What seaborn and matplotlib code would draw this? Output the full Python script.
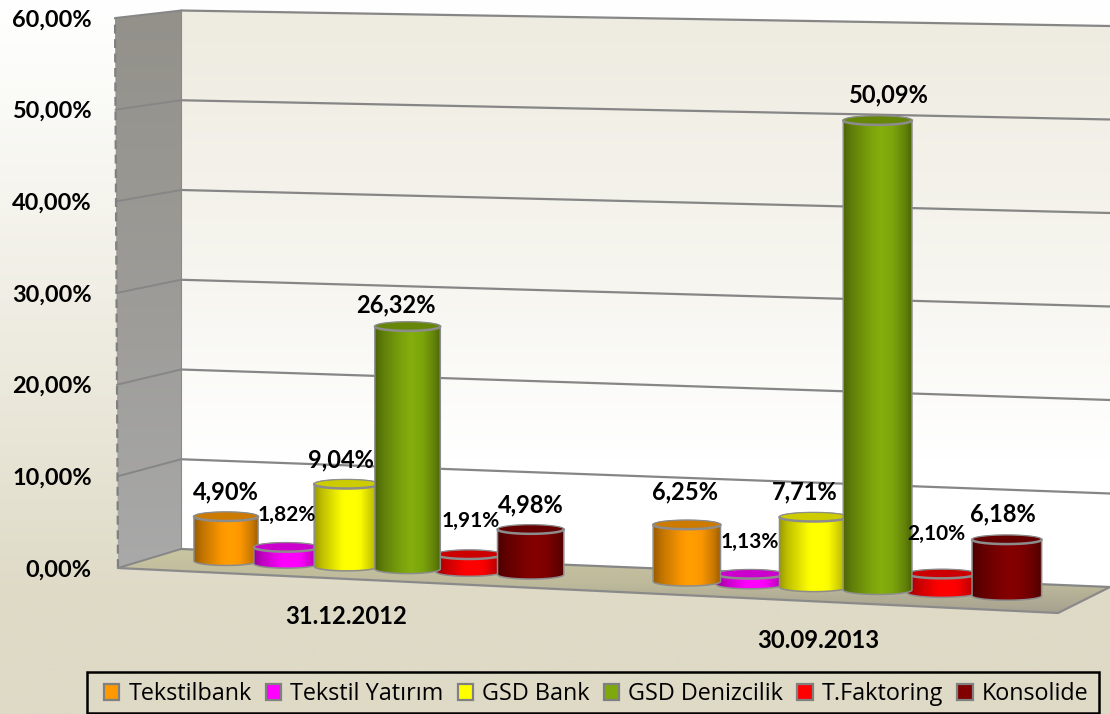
import numpy as np
import pandas as pd
import seaborn as sns
import matplotlib
matplotlib.use("Agg")
import matplotlib.pyplot as plt
from matplotlib.colors import to_rgb
from matplotlib.patches import Polygon, Rectangle
from matplotlib.transforms import Affine2D, Transform

# ---- data
periods = ["31.12.2012", "30.09.2013"]
series = ["Tekstilbank", "Tekstil Yatırım", "GSD Bank", "GSD Denizcilik", "T.Faktoring", "Konsolide"]
values_2012 = [4.90, 1.82, 9.04, 26.32, 1.91, 4.98]
values_2013 = [6.25, 1.13, 7.71, 50.09, 2.10, 6.18]
y_ticks = [0, 10, 20, 30, 40, 50, 60]

# ---- style
colors = ["#FF9900", "#FF00FF", "#FFFF00", "#7FA80C", "#FF0000", "#800000"]
label_sizes = [17, 15, 17, 17, 15, 17]
label_offsets = [
    [(0, 25), (1, 32), (-6, 24), (-12, 21), (2, 34), (0, 24)],
    [(-2, 33), (0, 32), (-9, 25), (11, 25), (-6, 40), (-4, 26)],
]
draw_order = [[0, 1, 2, 4, 5, 3], [1, 0, 2, 4, 5, 3]]
BOLD_FONT = ["Lato", "DejaVu Sans"]
FONT = ["Open Sans", "DejaVu Sans"]
W, H = 1110, 714

sns.set_theme(style="white")
plt.rcParams["font.family"] = FONT

fig = plt.figure(figsize=(W / 100, H / 100), dpi=100)
P = Affine2D().scale(1, -1).translate(0, H)  # picture pixels, y downwards


class Plane(Transform):
    input_dims = output_dims = 2
    has_inverse = False
    is_separable = False

    def __init__(self, fn):
        super().__init__()
        self.fn = fn

    def transform_non_affine(self, values):
        a = np.asarray(values, dtype=float)
        return np.column_stack(self.fn(a[:, 0], a[:, 1]))


def bar_plane(x, v):
    px = 377 + 457 * x + 11.5 * x ** 2
    base = 561 + 0.0445 * (px - 226)
    return px, base - (9.05 * v + 0.0065 * v ** 2)


def back_wall(u, v):
    yl, yr = 549 - v * 8.975, 587 - v * 9.35
    return 181 + 929 * u, yl + (yr - yl) * u


def left_wall(u, v):
    xf = 118 - 3 * v / 60
    yf, yb = 568 - v * 550 / 60, 549 - v * 8.975
    return xf + (181 - xf) * u, yf + (yb - yf) * u


T_bar, T_back, T_left = Plane(bar_plane), Plane(back_wall), Plane(left_wall)

# ---- background, walls, floor
bg = fig.add_axes([0, 0, 1, 1], zorder=0)
bg.set_axis_off()
bg.set_xlim(0, W)
bg.set_ylim(H, 0)
bg.autoscale(False)


def vgrad(stops, n=256):
    t = np.linspace(0, 1, n)
    pos = [s[0] for s in stops]
    cols = np.array([to_rgb(s[1]) for s in stops])
    return np.stack([np.interp(t, pos, cols[:, i]) for i in range(3)], axis=1)[:, None, :]


def grad_poly(a, pts, extent, z):
    im = a.imshow(vgrad(z), extent=extent, aspect="auto",
                  interpolation="bilinear", transform=P, zorder=1)
    im.set_clip_box(fig.bbox)
    im.set_clip_path(Polygon(pts, closed=True, transform=P))
    return im


grad_poly(bg, [(0, 0), (W, 0), (W, H), (0, H)], (0, W, H, 0),
          [(0, "#FFFFFF"), (0.12, "#FBFBF8"), (0.6, "#E9E6D8"), (0.84, "#DEDAC6"), (1, "#DEDAC6")])
grad_poly(bg, [(181, 10.5), (W, 26), (W, 587), (181, 549)], (181, W, 587, 10),
          [(0, "#EEEBE0"), (0.45, "#F6F5EF"), (0.78, "#FFFFFF"), (1, "#FFFFFF")])
grad_poly(bg, [(115, 18), (181, 10.5), (181, 549), (118, 568)], (115, 181, 568, 10),
          [(0, "#93918A"), (0.5, "#9C9B97"), (1, "#A9A9A9")])
grad_poly(bg, [(118, 568), (181, 549), (W, 587), (1058, 613)], (118, W, 613, 549),
          [(0, "#C9C6A2"), (0.55, "#BDB99B"), (1, "#A5A18F")])

for v in y_ticks:
    bg.plot([0, 1], [v, v], color="#868686", lw=1.6, transform=T_back + P, zorder=2, clip_on=False)
    bg.plot([0, 1], [v, v], color="#868686", lw=1.4, transform=T_left + P, zorder=2, clip_on=False)
bg.plot([0, 0], [0, 60], color="#808080", lw=1.6, ls=(0, (4, 2.5)), transform=T_left + P, zorder=3)
bg.plot([1, 1], [0, 60], color="#8A8A8A", lw=0.8, transform=T_left + P, zorder=3)
bg.plot([118, 1058, W], [568, 613, 587], color="#8A8A8A", lw=1.6, transform=P, zorder=3, clip_on=False)

# ---- bars, through seaborn
df = pd.DataFrame({
    "period": np.repeat(periods, len(series)),
    "series": series * len(periods),
    "value": values_2012 + values_2013,
})
ax = fig.add_axes([118 / W, (H - 568) / H, (W - 118) / W, 550 / H], zorder=1)
ax.patch.set_visible(False)
sns.barplot(data=df, x="period", y="value", hue="series", order=periods, hue_order=series,
            palette=dict(zip(series, colors)), saturation=1, width=0.8, gap=-0.07,
            errorbar=None, ax=ax)
handles, labels = ax.get_legend_handles_labels()
ax.set_ylim(0, 60)
ax.set_xlim((118 - 377) / 467, (W - 377) / 467)
ax.autoscale(False)
sns.despine(ax=ax, left=True, bottom=True)
ax.set_xlabel("")
ax.set_ylabel("")
ax.set_yticks(y_ticks, [f"{v:.2f}".replace(".", ",") + "%" for v in y_ticks],
              fontsize=16.9, fontweight="bold", color="black", family=BOLD_FONT)
ax.tick_params(axis="y", length=0, pad=19)
ax.set_xticks([(346 - 377) / 467, (818 - 377) / 467], periods, fontsize=17.2, fontweight="bold",
              color="black", family=BOLD_FONT)
ax.tick_params(axis="x", length=0)
for tick, pad in zip(ax.xaxis.get_major_ticks(), [27, 44]):
    tick.set_pad(pad)

T_P = T_bar + P
RY = 4.5
th = np.linspace(0, np.pi, 40)


def level_arc(x0, w, v, sign):
    # the rim is level: its height comes from the bar's centre on the sloping plane
    xs = x0 + w / 2 * (1 - np.cos(th))
    px, _ = bar_plane(xs, np.zeros_like(xs))
    _, cy = bar_plane(np.array([x0 + w / 2]), np.array([v]))
    if sign < 0:
        px = px[::-1]
    return px, cy[0] + sign * RY * np.sin(th)


for g in range(len(periods)):
    for z, s in enumerate(draw_order[g]):
        bar = ax.containers[s][g]
        x0, w, h = bar.get_x(), bar.get_width(), bar.get_height()
        # the flat seaborn bar stays inside the cylinder painted over it
        bar.set_transform(T_P)
        bar.set_clip_on(False)
        bar.set_linewidth(0)
        bar.set_zorder(1.5 + g + z * 0.1)
        bar.set_x(x0 + 0.07 * w)
        bar.set_width(0.86 * w)
        zb = 2 + g + z * 0.1
        bx, by = level_arc(x0, w, 0, +1)
        tx, ty = level_arc(x0, w, h, -1)
        body = np.column_stack([np.r_[bx, tx], np.r_[by, ty]])
        base = np.array(to_rgb(colors[s]))
        t = np.linspace(0, 1, 128)
        shade = np.interp(t, [0, 0.12, 0.42, 0.55, 0.72, 0.9, 1], [0.6, 0.75, 0.98, 1.04, 0.98, 0.78, 0.6])
        grad = np.clip(base[None, None, :] * shade[None, :, None], 0, 1)
        im = ax.imshow(grad, extent=(body[:, 0].min(), body[:, 0].max(), body[:, 1].max(), body[:, 1].min()),
                       aspect="auto", interpolation="bilinear", transform=P, zorder=zb)
        im.set_clip_box(fig.bbox)
        im.set_clip_path(Polygon(body, closed=True, transform=P))
        ax.add_patch(Polygon(body, closed=True, fc="none", ec="#8C8C8C", lw=1.1, transform=P,
                             zorder=zb + 0.01, clip_on=False))
        ux, uy = level_arc(x0, w, h, +1)
        cap = np.column_stack([np.r_[ux, tx], np.r_[uy, ty]])
        ax.add_patch(Polygon(cap, closed=True, fc=tuple(base * 0.8), ec="none", transform=P,
                             zorder=zb + 0.02, clip_on=False))
        ax.plot(ux, uy, color="#8C8C8C", lw=1.8, transform=P, zorder=zb + 0.03, clip_on=False)
        ax.plot(tx, ty, color="#8C8C8C", lw=0.7, transform=P, zorder=zb + 0.03, clip_on=False)
        ax.annotate(f"{h:.2f}".replace(".", ",") + "%", xy=(x0 + w / 2, h), xycoords=T_P,
                    xytext=label_offsets[g][s], textcoords="offset pixels",
                    ha="center", va="center", fontsize=label_sizes[s], fontweight="bold",
                    color="black", family=BOLD_FONT, zorder=10, annotation_clip=False)

# ---- legend: entries spread between the inner margins, frame drawn round them
leg = ax.legend(handles, labels, ncol=6, loc="lower left", mode="expand",
                bbox_to_anchor=(97 / W, 1 / H, (1095 - 97) / W, 42 / H), bbox_transform=fig.transFigure,
                fontsize=16.8, frameon=False,
                handlelength=0.66, handleheight=0.66, handletextpad=0.38, columnspacing=0.6,
                borderaxespad=0, borderpad=0.3)
leg.set_zorder(20)
for hd in leg.legend_handles:
    hd.set_edgecolor("#808080")
    hd.set_linewidth(1.6)
for txt in leg.get_texts():
    txt.set_color("black")
ax.add_patch(Rectangle((87, 672), 1012, 41, fc="none", ec="black", lw=1.8, transform=P,
                       zorder=19, clip_on=False))

fig.savefig("out.png", dpi=100)
